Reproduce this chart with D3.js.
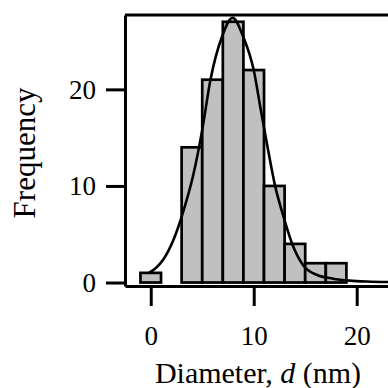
<!DOCTYPE html>
<html>
<head>
<meta charset="utf-8">
<script src="https://cdn.jsdelivr.net/npm/d3@7"></script>
<style>
  html, body { margin: 0; padding: 0; background: #fff; }
  svg { display: block; }
</style>
</head>
<body>
<svg id="chart" width="388" height="388"></svg>
<script>
// ---- data ----
const binCenters = [0, 4, 6, 8, 10, 12, 14, 16, 18];
const counts = [1, 14, 21, 27, 22, 10, 4, 2, 2];
const binWidth = 2;
const fitX = [-0.25, 0.5, 1.2, 2.2, 3.2, 4.1, 5.0, 5.8, 6.9, 7.95, 9.0, 10.0, 10.7, 11.4, 12.1, 12.9, 13.7, 14.8, 16.1, 17.7, 19.3, 21, 23.04];
const fitY = [0.95, 1.5, 2.35, 4.4, 7.5, 11, 15.8, 21, 25.4, 27.4, 25.4, 22, 17.8, 13.7, 9.9, 6.8, 4.1, 1.8, 0.8, 0.4, 0.2, 0.1, 0.05];
const xTicks = [0, 10, 20];
const yTicks = [0, 10, 20];
const xTitle = "Diameter, ";
const xTitleItalic = "d";
const xTitleEnd = " (nm)";
const yTitle = "Frequency";

// ---- layout ----
const svg = d3.select("#chart");
const font = "'Liberation Serif', 'Times New Roman', serif";
const x = d3.scaleLinear().domain([-2.5, 23.04]).range([125, 388]);
const y = d3.scaleLinear().domain([-0.36, 27.7]).range([286, 15]);

// bars
svg.append("g").selectAll("rect")
  .data(binCenters.map((c, i) => ({c, v: counts[i]})))
  .join("rect")
  .attr("x", d => x(d.c - binWidth / 2))
  .attr("width", d => x(d.c + binWidth / 2) - x(d.c - binWidth / 2))
  .attr("y", d => y(d.v))
  .attr("height", d => y(0) - y(d.v))
  .attr("fill", "#c0c0c0")
  .attr("stroke", "#000")
  .attr("stroke-width", 2.7);

// fit curve
const line = d3.line()
  .x(d => x(d[0]))
  .y(d => y(d[1]))
  .curve(d3.curveMonotoneX);
svg.append("path")
  .datum(fitX.map((v, i) => [v, fitY[i]]))
  .attr("d", line)
  .attr("fill", "none")
  .attr("stroke", "#000")
  .attr("stroke-width", 2.6);

// top frame line
svg.append("line")
  .attr("x1", x.range()[0]).attr("x2", x.range()[1])
  .attr("y1", y.range()[1]).attr("y2", y.range()[1])
  .attr("stroke", "#000").attr("stroke-width", 3);

// axes
const xAxis = svg.append("g")
  .attr("transform", `translate(0,${y.range()[0]})`)
  .call(d3.axisBottom(x).tickValues(xTicks).tickSize(20).tickSizeOuter(0));
const yAxis = svg.append("g")
  .attr("transform", `translate(${x.range()[0]},0)`)
  .call(d3.axisLeft(y).tickValues(yTicks).tickSize(19).tickSizeOuter(0).tickPadding(10));

[xAxis, yAxis].forEach(g => {
  g.select(".domain").attr("stroke-width", 3).attr("stroke", "#000");
  g.selectAll(".tick line").attr("stroke-width", 3).attr("stroke", "#000");
  g.selectAll("text").attr("font-family", font).attr("font-size", 27).attr("fill", "#000");
});
xAxis.selectAll("text").attr("y", 59).attr("dy", 0);

// titles
const xt = svg.append("text")
  .attr("x", 258).attr("y", 383)
  .attr("text-anchor", "middle")
  .attr("font-family", font).attr("font-size", 30).attr("fill", "#000");
xt.append("tspan").text(xTitle);
xt.append("tspan").attr("font-style", "italic").text(xTitleItalic);
xt.append("tspan").text(xTitleEnd);

svg.append("text")
  .attr("transform", "translate(35,153) rotate(-90)")
  .attr("text-anchor", "middle")
  .attr("font-family", font).attr("font-size", 31).attr("fill", "#000")
  .text(yTitle);
</script>
</body>
</html>
